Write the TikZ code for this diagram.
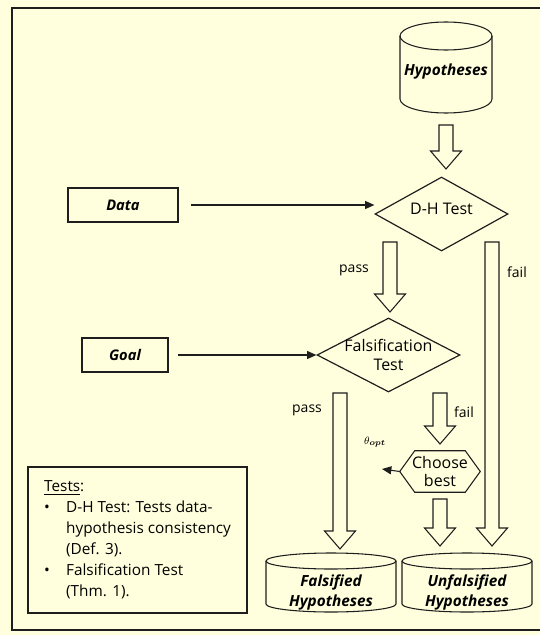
\documentclass[tikz,border=0pt]{standalone}
\usepackage{fontspec}
\setmainfont{Open Sans}
\usepackage{amsmath}
\usepackage{tikz}
\usetikzlibrary{shapes.geometric,arrows.meta,calc}

\definecolor{paper}{RGB}{255,255,222}
\definecolor{ink}{RGB}{30,30,30}

% hollow block arrow pointing down, from #1 to #2
\newcommand{\hollowarrow}[2]{%
  \draw[blockarrow] ($(#1)+(-7,0)$) -- ($(#1)+(7,0)$) -- ($(#1|-#2)+(7,-18)$) -- ($(#1|-#2)+(15.5,-18)$) -- (#1|-#2) -- ($(#1|-#2)+(-15.5,-18)$) -- ($(#1|-#2)+(-7,-18)$) -- cycle ;}

\begin{document}
\begin{tikzpicture}[x=0.75pt,y=0.75pt,yscale=-1,xscale=1,
  dbtext/.style={font=\fontsize{11.5}{15}\selectfont\bfseries\itshape, align=center, inner sep=0.75pt},
  inbox/.style={draw=ink, line width=0.8pt, minimum height=25.5pt, font=\fontsize{11}{13}\selectfont\bfseries\itshape},
  test/.style={diamond, draw=ink, line width=0.9pt, inner sep=0pt},
  blockarrow/.style={draw=ink, fill=paper, line width=0.8pt, line join=miter},
  arr/.style={draw=ink, line width=0.8pt, -{Triangle[length=7pt,width=6pt]}},
  lbl/.style={font=\fontsize{12}{14}\selectfont, inner sep=0.75pt, align=center},
  side/.style={font=\fontsize{10.5}{13}\selectfont, inner sep=0.75pt}]
\path[fill=paper] (0,0) rectangle (540,635);

%Shape: Frame
\draw [ink, line width=1.2pt] (540,8) -- (12,8) -- (12,630) -- (540,630) ;

%Shape: Can [Hypotheses]
\draw [ink, line width=0.8pt, fill=paper] (400,36) -- (400,99) arc (180:0:46 and 14) -- (492,36) ;
\draw [ink, line width=0.8pt] (446,36) ellipse (46 and 14) ;
%Shape: Can [Falsified]
\draw [ink, line width=0.8pt] (266,561) -- (266,604) arc (180:0:65 and 8) -- (396,561) ;
\draw [ink, line width=0.8pt] (331,561) ellipse (65 and 8) ;
%Shape: Can [Unfalsified]
\draw [ink, line width=0.8pt] (402,561) -- (402,604) arc (180:0:65 and 8) -- (532,561) ;
\draw [ink, line width=0.8pt] (467,561) ellipse (65 and 8) ;

% Text Node
\draw (446,72) node (hyp) [dbtext] {Hypotheses};
% Text Node
\draw (331,592) node (fals) [dbtext] {Falsified\\Hypotheses};
% Text Node
\draw (467,592) node (unfals) [dbtext] {Unfalsified\\Hypotheses};

%Shape: Rectangle [Data]
\draw (123,205) node (data) [inbox, minimum width=82.5pt] {Data};
%Shape: Rectangle [Goal]
\draw (125,355) node (goal) [inbox, minimum width=64.5pt] {Goal};

%Shape: Diamond [D-H Test]
\draw (441.5,214) node (dh) [test, minimum width=99.75pt, minimum height=55.5pt] {};
\draw (441.5,209) node (dhtext) [lbl] {D-H Test};
%Shape: Diamond [Falsification Test]
\draw (388.5,355) node (fal) [test, minimum width=107.25pt, minimum height=55.5pt] {};
\draw (fal) node (faltext) [lbl] {Falsification\\Test};

%Shape: Hexagon [Choose best]
\draw (440,471.5) node (choose) [lbl, minimum width=60pt, minimum height=30.75pt] {Choose\\best};
\draw [ink, line width=0.8pt] (choose.west) -- ($(choose.north west)+(15,0)$) -- ($(choose.north east)+(-15,0)$) -- (choose.east) -- ($(choose.south east)+(-15,0)$) -- ($(choose.south west)+(15,0)$) -- cycle ;

% Line arrows
\draw [arr, shorten <=9pt] (data) -- (data -| dh.west) ;
\draw [arr, shorten <=7pt] (goal) -- (fal) ;
\coordinate (thetaend) at (382,469) ;
\draw [arr] (choose.west) -- (thetaend) ;
\draw (375,442) node (theta) [inner sep=0.75pt] {\fontsize{8}{9}\selectfont$\theta_{\boldsymbol{opt}}$};

% Block arrows
\coordinate (a1s) at (446,125) ; \coordinate (a1e) at (446,169) ;
\coordinate (a2s) at (390,242) ; \coordinate (a2e) at (390,312) ;
\coordinate (a3s) at (492,242) ; \coordinate (a3e) at (492,546) ;
\coordinate (a4s) at (340,393) ; \coordinate (a4e) at (340,549) ;
\coordinate (a5s) at (440,393) ; \coordinate (a5e) at (440,444) ;
\coordinate (a6s) at (440,499) ; \coordinate (a6e) at (440,546) ;
\hollowarrow{a1s}{a1e}
\hollowarrow{a2s}{a2e}
\hollowarrow{a3s}{a3e}
\hollowarrow{a4s}{a4e}
\hollowarrow{a5s}{a5e}
\hollowarrow{a6s}{a6e}

% Text Node
\draw (354,270) node (pass1) [side] {pass};
% Text Node
\draw (517,272) node (fail1) [side] {fail};
% Text Node
\draw (307,410) node (pass2) [side] {pass};
% Text Node
\draw (464,412) node (fail2) [side] {fail};

%Shape: Rectangle [Tests]
\draw (137.5,540) node (tests) [draw=ink, line width=0.8pt, minimum width=164.25pt, minimum height=109.5pt, font=\fontsize{11.5}{13.8}\selectfont] {\renewcommand{\arraystretch}{1.14}\begin{tabular}{@{}p{16.5pt}@{}l@{}}
\multicolumn{2}{@{}l}{\underline{Tests}:}\\
\textbullet & D-H Test: Tests data-\\
 & hypothesis consistency\\
 & (Def. 3).\\
\textbullet & Falsification Test\\
 & (Thm. 1).
\end{tabular}};

\end{tikzpicture}
\end{document}
